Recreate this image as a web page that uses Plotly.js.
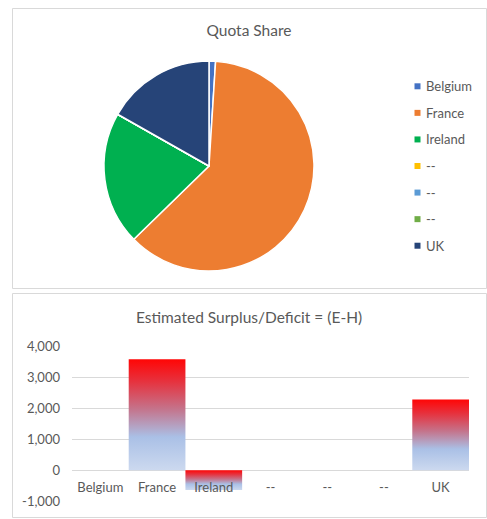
<!DOCTYPE html>
<html>
<head>
<meta charset="utf-8">
<script src="https://cdn.plot.ly/plotly-3.0.1.min.js"></script>
<style>
html,body{margin:0;padding:0;background:#fff;}
#chart{width:487px;height:519px;}
</style>
</head>
<body>
<div id="chart"></div>
<script>
// ---- data ----
var pieTitle = 'Quota Share';
var pieLabels = ['Belgium', 'France', 'Ireland', '--', '--', '--', 'UK'];
var pieValues = [1.0, 61.7, 20.5, 0, 0, 0, 16.8];
var pieColors = ['#4472C4', '#ED7D31', '#00B050', '#FFC000', '#5B9BD5', '#70AD47', '#264478'];

var barTitle = 'Estimated Surplus/Deficit = (E-H)';
var barCategories = ['Belgium', 'France', 'Ireland', '--', '--', '--', 'UK'];
var barValues = [0, 3570, -640, 0, 0, 0, 2280];
var yTickVals = [-1000, 0, 1000, 2000, 3000, 4000];
var yTickText = ['-1,000', '0', '1,000', '2,000', '3,000', '4,000'];

// ---- layout helpers (pixel -> paper) ----
var W = 487, H = 519;
function px(x) { return x / W; }
function py(y) { return 1 - y / H; }

var FONT = 'Lato, "Open Sans", sans-serif';
var TXT = '#595959';
var GRID = '#D9D9D9';
var FS = 13;

// unique labels so that the pie does not merge the three "--" slices
var pieIds = pieLabels.map(function (l, i) {
  var s = l;
  for (var k = 0; k < i; k++) if (pieLabels[k] === l) s += '\u200b';
  return s;
});

var traces = [];
traces.push({
  type: 'pie',
  labels: pieIds,
  values: pieValues,
  marker: { colors: pieColors, line: { color: '#ffffff', width: 1.5 } },
  sort: false,
  direction: 'clockwise',
  rotation: 0,
  textinfo: 'none',
  hoverinfo: 'label+percent',
  showlegend: false,
  domain: { x: [px(104), px(314)], y: [py(271), py(61)] }
});

var xIdx = barCategories.map(function (c, i) { return i; });

traces.push({
  type: 'bar',
  x: xIdx,
  y: barValues,
  width: 1,
  marker: { color: 'rgba(0,0,0,0)' },
  xaxis: 'x', yaxis: 'y',
  showlegend: false,
  hoverinfo: 'y'
});

var gradScale = [
  [0.0, '#CCD9EF'],
  [0.30, '#AAC0E6'],
  [0.55, '#C4748C'],
  [0.80, '#E6323E'],
  [1.0, '#FF0606']
];

barValues.forEach(function (v, i) {
  if (!v) return;
  traces.push({
    type: 'scatter',
    mode: 'lines',
    x: [i - 0.5, i + 0.5, i + 0.5, i - 0.5, i - 0.5],
    y: [0, 0, v, v, 0],
    fill: 'toself',
    fillgradient: { type: 'vertical', colorscale: gradScale },
    line: { width: 0, color: 'rgba(0,0,0,0)' },
    xaxis: 'x', yaxis: 'y',
    showlegend: false,
    hoverinfo: 'skip'
  });
});

// y domain: 4000 at px 346, -1000 at px 501.3
var yDom = [py(501.3), py(346)];
var yRange = [-1000, 4000];
var zeroPos = yDom[0] + (0 - yRange[0]) / (yRange[1] - yRange[0]) * (yDom[1] - yDom[0]);

var shapes = [
  { type: 'rect', xref: 'paper', yref: 'paper', x0: px(12.5), x1: px(486.5), y0: py(288.5), y1: py(8.5),
    line: { color: GRID, width: 1 }, fillcolor: 'rgba(0,0,0,0)', layer: 'below' },
  { type: 'rect', xref: 'paper', yref: 'paper', x0: px(12.5), x1: px(486.5), y0: py(517.5), y1: py(293.5),
    line: { color: GRID, width: 1 }, fillcolor: 'rgba(0,0,0,0)', layer: 'below' }
];

var annotations = [
  { text: barTitle, xref: 'paper', yref: 'paper', x: px(249), y: py(317), xanchor: 'center', yanchor: 'middle',
    showarrow: false, font: { family: FONT, size: 15.5, color: TXT } }
];

// legend for the pie (square swatch + label), one row per slice
var legX = 417.5, legY0 = 86.3, legStep = 26.57;
pieLabels.forEach(function (l, i) {
  var cy = legY0 + i * legStep;
  shapes.push({ type: 'rect', xref: 'paper', yref: 'paper', x0: px(legX - 3), x1: px(legX + 3),
    y0: py(cy + 3), y1: py(cy - 3), line: { width: 0 }, fillcolor: pieColors[i] });
  annotations.push({ text: l, xref: 'paper', yref: 'paper', x: px(423.5), y: py(cy), xanchor: 'left', yanchor: 'middle',
    showarrow: false, font: { family: FONT, size: FS, color: TXT } });
});

var layout = {
  width: W, height: H,
  margin: { l: 0, r: 0, t: 0, b: 0 },
  paper_bgcolor: '#ffffff', plot_bgcolor: 'rgba(0,0,0,0)',
  showlegend: false,
  font: { family: FONT, color: TXT, size: FS },
  title: { text: pieTitle, x: px(249), xanchor: 'center', y: py(31), yanchor: 'middle',
    font: { family: FONT, size: 15.5, color: TXT } },
  xaxis: {
    domain: [px(72), px(469)],
    range: [-0.5, 6.5],
    tickmode: 'array', tickvals: xIdx, ticktext: barCategories,
    showgrid: false, zeroline: false, showline: false, ticks: '',
    anchor: 'free', position: zeroPos, ticklabelstandoff: 8,
    tickfont: { family: FONT, size: FS, color: TXT },
    fixedrange: true
  },
  yaxis: {
    domain: yDom,
    range: yRange,
    tickmode: 'array', tickvals: yTickVals, ticktext: yTickText,
    showgrid: true, gridcolor: GRID, gridwidth: 1,
    zeroline: false, showline: false, ticks: '',
    ticklabelstandoff: 11,
    tickfont: { family: FONT, size: FS, color: TXT },
    fixedrange: true
  },
  bargap: 0,
  shapes: shapes,
  annotations: annotations
};

Plotly.newPlot('chart', traces, layout, { displayModeBar: false, staticPlot: true });
</script>
</body>
</html>
